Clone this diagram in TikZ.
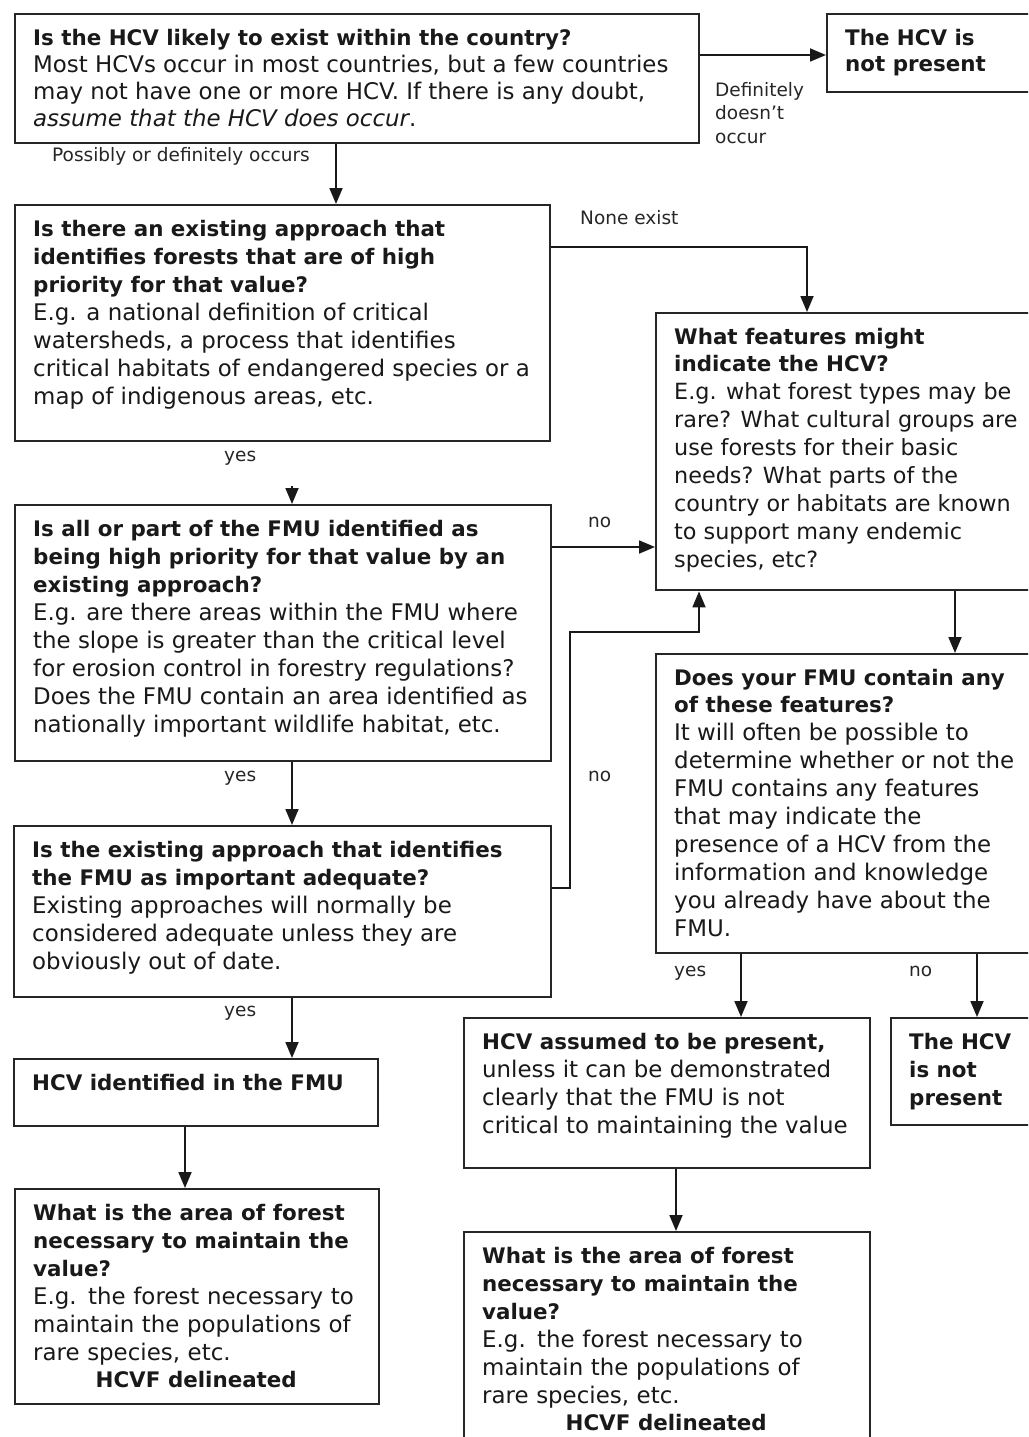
\documentclass[tikz,border=0pt]{standalone}
\usepackage{fontspec}
\setmainfont{DejaVu Sans}
\usetikzlibrary{arrows.meta,calc}
\newcommand\hb[1]{{\fontsize{21.4}{28}\selectfont\bfseries #1}}
\begin{document}
\begin{tikzpicture}[x=1pt,y=-1pt,
  box/.style={draw=black!85, line width=2.4pt, anchor=north west, inner sep=0pt, fill=white},
  txt/.style={anchor=north west, inner sep=0pt, align=left, font=\fontsize{22.9}{28}\selectfont, text=black!90},
  lbl/.style={anchor=base west, inner sep=0pt, align=left, font=\fontsize{18.5}{23.5}\selectfont, text=black!85},
  arr/.style={line width=1.8pt, draw=black!90, -{Triangle[length=16pt,width=13pt]}}]
\useasboundingbox (0,0) rectangle (1028,1437);
\clip (0,0) rectangle (1028,1437);
\fill[white] (0,0) rectangle (1028,1437);

% x positions of vertical connectors
\coordinate (x336) at (336,0);
\coordinate (x807) at (807,0);
\coordinate (x292) at (292,0);
\coordinate (x699) at (699,0);
\coordinate (x955) at (955,0);
\coordinate (x185) at (185,0);
\coordinate (x741) at (741,0);
\coordinate (x977) at (977,0);
\coordinate (x676) at (676,0);
\coordinate (k1) at (570,632);
\coordinate (s4) at (292,486);

% boxes
\node[box, minimum width=684pt, minimum height=129pt] (b1) at (14,13) {};
\node[box, minimum width=220pt, minimum height=78pt] (np1) at (826,13) {};
\node[box, minimum width=535pt, minimum height=236pt] (b2) at (14,204) {};
\node[box, minimum width=390pt, minimum height=277pt] (b3) at (655,312) {};
\node[box, minimum width=536pt, minimum height=256pt] (b4) at (14,504) {};
\node[box, minimum width=537pt, minimum height=171pt] (b5) at (13,825) {};
\node[box, minimum width=390pt, minimum height=299pt] (b6) at (655,653) {};
\node[box, minimum width=364pt, minimum height=67pt] (b11) at (13,1058) {};
\node[box, minimum width=406pt, minimum height=150pt] (b7) at (463,1017) {};
\node[box, minimum width=160pt, minimum height=107pt] (b8) at (890,1017) {};
\node[box, minimum width=364pt, minimum height=215pt] (b10) at (14,1188) {};
\node[box, minimum width=406pt, minimum height=240pt] (b9) at (463,1231) {};

% texts
\node[txt] (t1) at ([xshift=19pt,yshift=-16pt]b1.north west) {\hb{Is the HCV likely to exist within the country?}\\[-1pt]
Most HCVs occur in most countries, but a few countries\\[-1pt]
may not have one or more HCV. If there is any doubt,\\[-1pt]
\textit{assume that the HCV does occur}.};
\node[txt] (tnp1) at ([xshift=19pt,yshift=-16pt]np1.north west) {\hb{The HCV is}\\[-2pt]\hb{not present}};
\node[txt] (t2) at ([xshift=19pt,yshift=-16pt]b2.north west) {\hb{Is there an existing approach that}\\
\hb{identifies forests that are of high}\\
\hb{priority for that value?}\\
E.g. a national definition of critical\\
watersheds, a process that identifies\\
critical habitats of endangered species or a\\
map of indigenous areas, etc.};
\node[txt, font=\fontsize{22.3}{28}\selectfont] (t3) at ([xshift=19pt,yshift=-16pt]b3.north west) {\hb{What features might}\\[-1pt]
\hb{indicate the HCV?}\\
E.g. what forest types may be\\
rare? What cultural groups are\\
use forests for their basic\\
needs? What parts of the\\
country or habitats are known\\
to support many endemic\\
species, etc?};
\node[txt] (t4) at ([xshift=19pt,yshift=-16pt]b4.north west) {\hb{Is all or part of the FMU identified as}\\
\hb{being high priority for that value by an}\\
\hb{existing approach?}\\
E.g. are there areas within the FMU where\\
the slope is greater than the critical level\\
for erosion control in forestry regulations?\\
Does the FMU contain an area identified as\\
nationally important wildlife habitat, etc.};
\node[txt] (t5) at ([xshift=19pt,yshift=-16pt]b5.north west) {\hb{Is the existing approach that identifies}\\
\hb{the FMU as important adequate?}\\
Existing approaches will normally be\\
considered adequate unless they are\\
obviously out of date.};
\node[txt] (t6) at ([xshift=19pt,yshift=-16pt]b6.north west) {\hb{Does your FMU contain any}\\[-1pt]
\hb{of these features?}\\
It will often be possible to\\
determine whether or not the\\
FMU contains any features\\
that may indicate the\\
presence of a HCV from the\\
information and knowledge\\
you already have about the\\
FMU.};
\node[txt] (t11) at ([xshift=19pt,yshift=-16pt]b11.north west) {\hb{HCV identified in the FMU}};
\node[txt] (t7) at ([xshift=19pt,yshift=-16pt]b7.north west) {\hb{HCV assumed to be present,}\\
unless it can be demonstrated\\
clearly that the FMU is not\\
critical to maintaining the value};
\node[txt] (t8) at ([xshift=19pt,yshift=-16pt]b8.north west) {\hb{The HCV}\\\hb{is not}\\\hb{present}};
\node[txt, text width=326pt] (t10) at ([xshift=19pt,yshift=-16pt]b10.north west) {\hb{What is the area of forest}\\
\hb{necessary to maintain the}\\
\hb{value?}\\
E.g. the forest necessary to\\
maintain the populations of\\
rare species, etc.\\[-1pt]
\makebox[\linewidth]{\hb{HCVF delineated}}};
\node[txt, text width=368pt] (t9) at ([xshift=19pt,yshift=-16pt]b9.north west) {\hb{What is the area of forest}\\
\hb{necessary to maintain the}\\
\hb{value?}\\
E.g. the forest necessary to\\
maintain the populations of\\
rare species, etc.\\[-1pt]
\makebox[\linewidth]{\hb{HCVF delineated}}};

% connector labels
\node[lbl] (l1) at (715,143) {Definitely\\doesn't\\occur};
\node[lbl] (l2) at (52,161) {Possibly or definitely occurs};
\node[lbl] (l3) at (580,224) {None exist};
\node[lbl] (l4) at (224,461) {yes};
\node[lbl] (l5) at (588,527) {no};
\node[lbl] (l6) at (224,781) {yes};
\node[lbl] (l7) at (588,781) {no};
\node[lbl] (l8) at (224,1016) {yes};
\node[lbl] (l9) at (674,976) {yes};
\node[lbl] (l10) at (909,976) {no};

% connectors
\coordinate (p1) at ([yshift=-42pt]b1.north east);
\draw[arr] (p1) -- (p1 -| np1.west);
\draw[arr] (b1.south -| x336) -- (b2.north -| x336);
\coordinate (p2) at ([yshift=-43pt]b2.north east);
\draw[arr] (p2) -| (b3.north -| x807);
\draw[arr] (s4) -- (b4.north -| s4);
\coordinate (p4) at ([yshift=-43pt]b4.north east);
\draw[arr] (p4) -- (p4 -| b3.west);
\draw[arr] (b4.south -| x292) -- (b5.north -| x292);
\coordinate (p5) at ([yshift=-63pt]b5.north east);
\draw[arr] (p5) -| (k1) -| (b3.south -| x699);
\draw[arr] (b3.south -| x955) -- (b6.north -| x955);
\draw[arr] (b5.south -| x292) -- (b11.north -| x292);
\draw[arr] (b11.south -| x185) -- (b10.north -| x185);
\draw[arr] (b6.south -| x741) -- (b7.north -| x741);
\draw[arr] (b6.south -| x977) -- (b8.north -| x977);
\draw[arr] (b7.south -| x676) -- (b9.north -| x676);
\end{tikzpicture}
\end{document}
